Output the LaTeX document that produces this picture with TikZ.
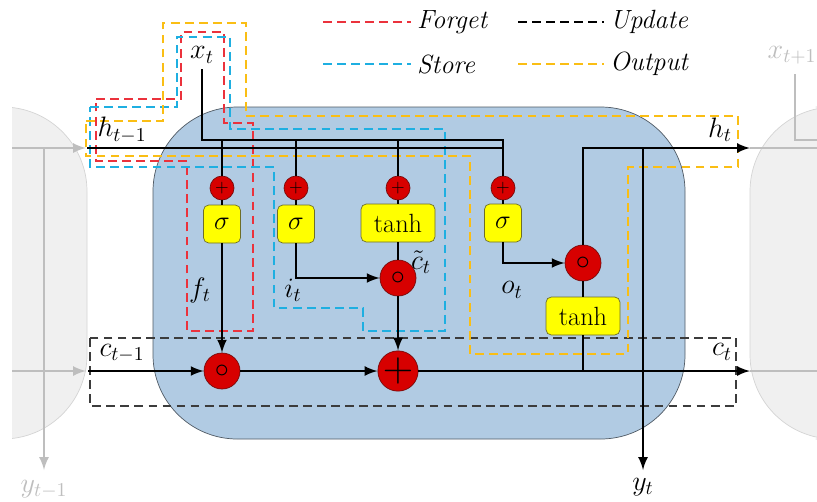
\documentclass[tikz,border=0pt]{standalone}
\usepackage{fix-cm}
\usepackage{amsmath,amssymb}
\usepackage{xcolor}
\usepackage{tikz}
\usetikzlibrary{calc,arrows,positioning}
\definecolor{cCell}{RGB}{177,203,227}
\definecolor{cCellEdge}{RGB}{80,90,100}
\definecolor{cSide}{RGB}{240,240,240}
\definecolor{cSideEdge}{RGB}{212,212,212}
\definecolor{cGreyLn}{RGB}{190,190,190}
\definecolor{cRed}{RGB}{215,0,0}
\definecolor{cRedEdge}{RGB}{120,10,10}
\definecolor{cYel}{RGB}{255,255,0}
\definecolor{cYelEdge}{RGB}{110,110,40}
\definecolor{cForget}{RGB}{235,50,60}
\definecolor{cStore}{RGB}{30,175,225}
\definecolor{cOut}{RGB}{250,190,20}
\definecolor{cUpd}{RGB}{60,60,60}

\tikzset{
  gatebox/.style={draw=cYelEdge,fill=cYel,rounded corners=3pt,minimum height=0.76cm,
    minimum width=0.74cm,inner sep=0pt,font=\fontsize{15}{17}\selectfont},
  sumdot/.style={circle,draw=cRedEdge,fill=cRed,minimum size=0.48cm,inner sep=0pt,
    font=\fontsize{10}{10}\selectfont},
  opdot/.style={circle,draw=cRedEdge,fill=cRed,minimum size=0.72cm,inner sep=0pt},
  flow/.style={line width=1.5pt},
  region/.style={line width=1pt,dash pattern=on 5pt off 3pt},
  ghost/.style={cGreyLn,line width=1.5pt},
  legend/.style={anchor=west,font=\fontsize{15}{17}\selectfont\itshape},
}

\begin{document}
\begin{tikzpicture}[x=0.02cm,y=-0.02cm,font=\fontsize{16}{19}\selectfont,>=latex]
  \useasboundingbox (0,0) rectangle (817,501);
  % neighbouring cells
  \begin{scope}
    \clip (12,0) rectangle (817,501);
    \draw[cSideEdge,fill=cSide,rounded corners=48] (-80,107) rectangle (87,439);
    \draw[cSideEdge,fill=cSide,rounded corners=48] (750,107) rectangle (900,439);
    \draw[ghost,->] (0,148) -- (86,148);
    \draw[ghost,->] (0,371) -- (86,371);
    \draw[ghost,->] (44,148) -- (44,470);
    \draw[ghost] (750,148) -- (817,148);
    \draw[ghost] (750,371) -- (817,371);
    \draw[ghost] (795,74) |- (817,140);
  \end{scope}
  \node[text=cGreyLn] (yprev) at (44,489) {$y_{t-1}$};
  \node[text=cGreyLn] (xnext) at (792,55) {$x_{t+1}$};

  % LSTM cell
  \draw[cCellEdge,fill=cCell,rounded corners=48] (153,107) rectangle (685,439);

  % gate regions
  \draw[region,cUpd] (90,338) rectangle (736,406);
  \draw[region,cForget] (96,99) -- (181,99) -- (181,32) -- (224,32) -- (224,123)
    -- (253,123) -- (253,331) -- (187,331) -- (187,161) -- (96,161) -- cycle;
  \draw[region,cStore] (90,107) -- (177,107) -- (177,37) -- (230,37) -- (230,129)
    -- (445,129) -- (445,331) -- (363,331) -- (363,308) -- (274,308) -- (274,167)
    -- (90,167) -- cycle;
  \draw[region,cOut] (86,121) -- (163,121) -- (163,23) -- (246,23) -- (246,116)
    -- (738,116) -- (738,167) -- (628,167) -- (628,354) -- (470,354) -- (470,156)
    -- (86,156) -- cycle;

  % legend
  \node[legend] (lforget) at (411,22) {Forget};
  \node[legend] (lstore) at (411,64) {Store};
  \node[legend] (lupdate) at (604,22) {Update};
  \node[legend] (loutput) at (604,64) {Output};
  \draw[region,cForget] (323,22) -- (lforget.west);
  \draw[region,cStore] (323,64) -- (lstore.west);
  \draw[region,black] (518,22) -- (lupdate.west);
  \draw[region,cOut] (518,64) -- (loutput.west);

  % inputs and outputs
  \node (xt) at (202,55) {$x_t$};
  \coordinate (hin) at (87,148);
  \coordinate (cin) at (88,371);
  \coordinate (xr) at (503,140);
  \coordinate (hr) at (503,148);
  \coordinate (hout) at (750,148);
  \coordinate (cout) at (750,371);
  \coordinate (ysplit) at (643,148);
  \coordinate (yout) at (643,470);

  % gates
  \node[sumdot] (sf) at (222,188) {$+$};
  \node[sumdot] (si) at (296,188) {$+$};
  \node[sumdot] (sg) at (398,188) {$+$};
  \node[sumdot] (so) at (503,188) {$+$};
  \node[gatebox] (bf) at (222,224) {$\sigma$};
  \node[gatebox] (bi) at (296,224) {$\sigma$};
  \node[gatebox,minimum width=1.48cm] (bg) at (398,223) {tanh};
  \node[gatebox] (bo) at (503,223) {$\sigma$};
  \node[gatebox,minimum width=1.48cm] (bc) at (583,316) {tanh};
  \node[opdot] (mf) at (222,371) {$\circ$};
  \node[opdot,font=\fontsize{24}{24}\selectfont] (pc) at (398,371) {$+$};
  \node[opdot] (mi) at (398,278) {$\circ$};
  \node[opdot] (mo) at (583,263) {$\circ$};

  % connections
  \draw[flow] (xt.south) |- (xr) -- (so);
  \draw[flow] (hin) -- (hr);
  \foreach \g in {sf,si,sg} {
    \draw[flow] (\g |- xr) -- (\g);
  }
  \foreach \g/\b in {sf/bf,si/bi,sg/bg,so/bo} {
    \draw[flow] (\g) -- (\b);
  }
  \draw[flow,->] (bf) -- (mf);
  \draw[flow,->] (bi) |- (mi);
  \draw[flow] (bg) -- (mi);
  \draw[flow,->] (mi) -- (pc);
  \draw[flow,->] (bo) |- (mo);
  \draw[flow] (mo) -- (bc);
  \draw[flow] (bc) -- (bc |- cout);
  \draw[flow,->] (cin) -- (mf);
  \draw[flow,->] (mf) -- (pc);
  \draw[flow,->] (pc) -- (cout);
  \draw[flow,->] (mo) |- (hout);
  \draw[flow,->] (ysplit) -- (yout);

  % labels
  \node (hprev) at (122,130) {$h_{t-1}$};
  \node (cprev) at (122,353) {$c_{t-1}$};
  \node (hnext) at (720,130) {$h_t$};
  \node (cnext) at (722,352) {$c_t$};
  \node (ft) at (200,290) {$f_t$};
  \node (it) at (293,290) {$i_t$};
  \node (ct) at (421,262) {$\tilde{c}_t$};
  \node (ot) at (512,290) {$o_t$};
  \node (yt) at (643,487) {$y_t$};
\end{tikzpicture}
\end{document}
